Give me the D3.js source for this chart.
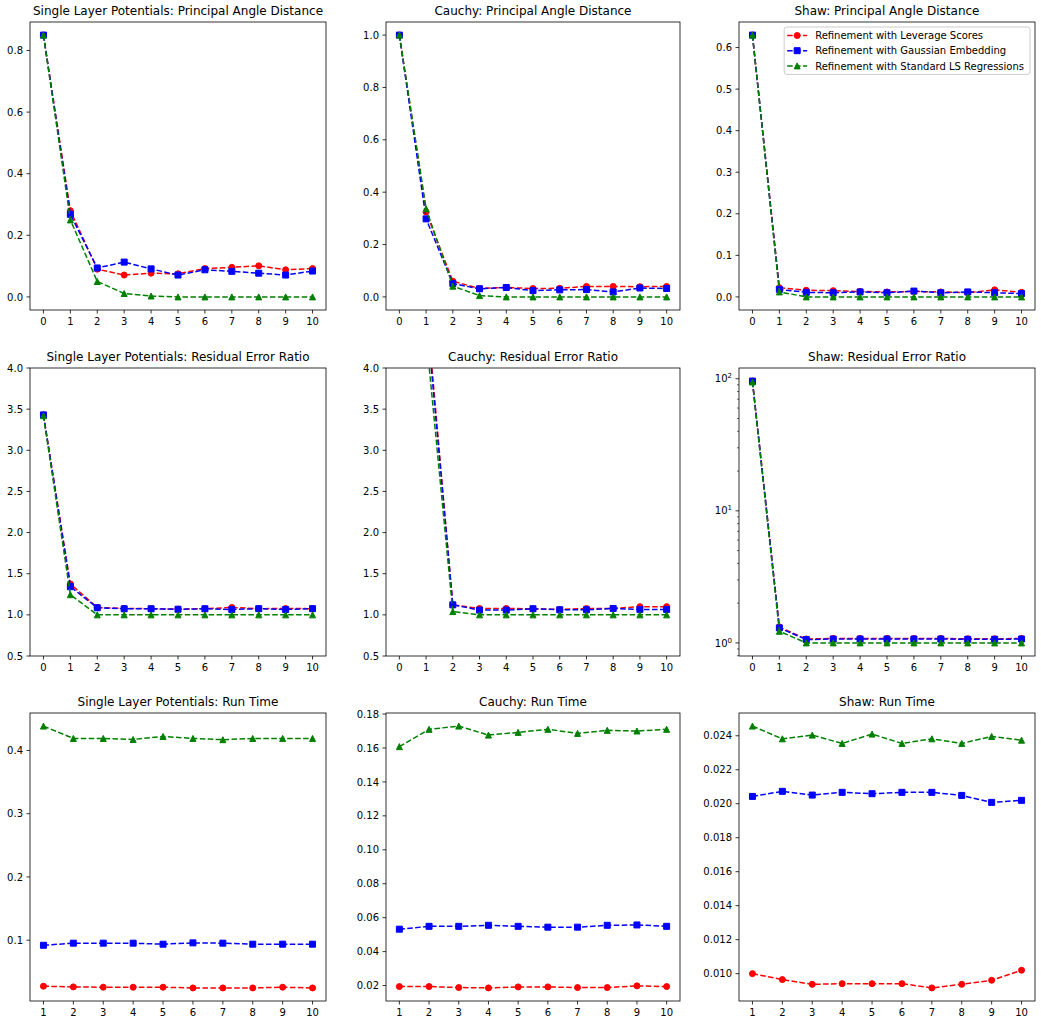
<!DOCTYPE html>
<html>
<head>
<meta charset="UTF-8">
<script src="https://d3js.org/d3.v7.min.js"></script>
<style>
  body { margin: 0; background: #fff; }
  svg { font-family: "DejaVu Sans", sans-serif; }
</style>
</head>
<body>
<svg width="1041" height="1025"></svg>
<script>
// x values
const iters = [0, 1, 2, 3, 4, 5, 6, 7, 8, 9, 10];
const runs = [1, 2, 3, 4, 5, 6, 7, 8, 9, 10];

// principal angle distance
const slpAngleLev   = [0.85, 0.28, 0.09, 0.071, 0.077, 0.075, 0.092, 0.096, 0.101, 0.088, 0.092];
const slpAngleGauss = [0.85, 0.268, 0.094, 0.113, 0.091, 0.071, 0.088, 0.083, 0.077, 0.071, 0.084];
const slpAngleLS    = [0.85, 0.25, 0.05, 0.011, 0.003, 0, 0, 0, 0, 0, 0];

const cauchyAngleLev   = [1.0, 0.324, 0.06, 0.032, 0.036, 0.032, 0.033, 0.04, 0.04, 0.039, 0.04];
const cauchyAngleGauss = [1.0, 0.298, 0.051, 0.031, 0.036, 0.024, 0.027, 0.028, 0.019, 0.034, 0.032];
const cauchyAngleLS    = [1.0, 0.337, 0.041, 0.005, 0, 0, 0, 0, 0, 0, 0];

const shawAngleLev   = [0.63, 0.022, 0.016, 0.015, 0.013, 0.012, 0.013, 0.012, 0.01, 0.017, 0.011];
const shawAngleGauss = [0.63, 0.018, 0.011, 0.01, 0.012, 0.01, 0.014, 0.01, 0.012, 0.01, 0.008];
const shawAngleLS    = [0.63, 0.012, 0, 0, 0, 0, 0, 0, 0, 0, 0];

// residual error ratio
const slpResidLev   = [3.43, 1.375, 1.09, 1.078, 1.075, 1.07, 1.075, 1.09, 1.075, 1.078, 1.075];
const slpResidGauss = [3.43, 1.342, 1.086, 1.074, 1.074, 1.068, 1.074, 1.065, 1.075, 1.065, 1.075];
const slpResidLS    = [3.42, 1.245, 1.0, 1.0, 1.0, 1.0, 1.0, 1.0, 1.0, 1.0, 1.0];

const cauchyResidLev   = [38, 4.81, 1.12, 1.078, 1.078, 1.074, 1.066, 1.078, 1.078, 1.1, 1.1];
const cauchyResidGauss = [38, 4.7, 1.122, 1.058, 1.058, 1.074, 1.062, 1.062, 1.078, 1.066, 1.066];
const cauchyResidLS    = [38, 4.4, 1.04, 1.0, 1.0, 1.0, 1.0, 1.0, 1.0, 1.0, 1.0];

const shawResidLev   = [96, 1.32, 1.07, 1.08, 1.08, 1.08, 1.08, 1.08, 1.075, 1.075, 1.08];
const shawResidGauss = [96, 1.3, 1.06, 1.07, 1.07, 1.07, 1.07, 1.07, 1.065, 1.065, 1.07];
const shawResidLS    = [94.5, 1.225, 1.0, 1.0, 1.0, 1.0, 1.0, 1.0, 1.0, 1.0, 1.0];

// run time
const slpTimeLev   = [0.0273, 0.0262, 0.0257, 0.0257, 0.0257, 0.0246, 0.0246, 0.0246, 0.0257, 0.0246];
const slpTimeGauss = [0.092, 0.0953, 0.0953, 0.0953, 0.0937, 0.0958, 0.0953, 0.0937, 0.0937, 0.0937];
const slpTimeLS    = [0.4385, 0.419, 0.419, 0.4174, 0.422, 0.419, 0.417, 0.419, 0.419, 0.419];

const cauchyTimeLev   = [0.0194, 0.0194, 0.0188, 0.0186, 0.0192, 0.0192, 0.0188, 0.0188, 0.0198, 0.0194];
const cauchyTimeGauss = [0.0532, 0.0549, 0.0549, 0.0555, 0.0549, 0.0544, 0.0544, 0.0555, 0.0557, 0.0549];
const cauchyTimeLS    = [0.1608, 0.171, 0.1729, 0.1676, 0.1692, 0.171, 0.1686, 0.1704, 0.17, 0.171];

const shawTimeLev   = [0.01, 0.00965, 0.00937, 0.00941, 0.00941, 0.00941, 0.00916, 0.00937, 0.00961, 0.0102];
const shawTimeGauss = [0.02043, 0.02073, 0.02051, 0.02067, 0.02059, 0.02067, 0.02067, 0.02049, 0.02008, 0.0202];
const shawTimeLS    = [0.02457, 0.02382, 0.02404, 0.02355, 0.0241, 0.02355, 0.02382, 0.02355, 0.02396, 0.02374];

// tick values
const slpAngleTicks = [0, 0.2, 0.4, 0.6, 0.8];
const cauchyAngleTicks = [0, 0.2, 0.4, 0.6, 0.8, 1.0];
const shawAngleTicks = [0, 0.1, 0.2, 0.3, 0.4, 0.5, 0.6];
const residTicks = [0.5, 1.0, 1.5, 2.0, 2.5, 3.0, 3.5, 4.0];
const shawResidTicks = [1, 10, 100];
const slpTimeTicks = [0.1, 0.2, 0.3, 0.4];
const cauchyTimeTicks = [0.02, 0.04, 0.06, 0.08, 0.10, 0.12, 0.14, 0.16, 0.18];
const shawTimeTicks = [0.010, 0.012, 0.014, 0.016, 0.018, 0.020, 0.022, 0.024];

const seriesNames = ["Refinement with Leverage Scores", "Refinement with Gaussian Embedding", "Refinement with Standard LS Regressions"];
const seriesColors = ["#ff0000", "#0000ff", "#008000"];
const seriesMarkers = ["circle", "square", "triangle"];

const panels = [
  { title: "Single Layer Potentials: Principal Angle Distance", x: iters, ys: [slpAngleLev, slpAngleGauss, slpAngleLS], ticks: slpAngleTicks, fmt: ".1f" },
  { title: "Cauchy: Principal Angle Distance", x: iters, ys: [cauchyAngleLev, cauchyAngleGauss, cauchyAngleLS], ticks: cauchyAngleTicks, fmt: ".1f" },
  { title: "Shaw: Principal Angle Distance", x: iters, ys: [shawAngleLev, shawAngleGauss, shawAngleLS], ticks: shawAngleTicks, fmt: ".1f", legend: true },
  { title: "Single Layer Potentials: Residual Error Ratio", x: iters, ys: [slpResidLev, slpResidGauss, slpResidLS], ticks: residTicks, fmt: ".1f", ylim: [0.5, 4] },
  { title: "Cauchy: Residual Error Ratio", x: iters, ys: [cauchyResidLev, cauchyResidGauss, cauchyResidLS], ticks: residTicks, fmt: ".1f", ylim: [0.5, 4] },
  { title: "Shaw: Residual Error Ratio", x: iters, ys: [shawResidLev, shawResidGauss, shawResidLS], ticks: shawResidTicks, log: true },
  { title: "Single Layer Potentials: Run Time", x: runs, ys: [slpTimeLev, slpTimeGauss, slpTimeLS], ticks: slpTimeTicks, fmt: ".1f" },
  { title: "Cauchy: Run Time", x: runs, ys: [cauchyTimeLev, cauchyTimeGauss, cauchyTimeLS], ticks: cauchyTimeTicks, fmt: ".2f" },
  { title: "Shaw: Run Time", x: runs, ys: [shawTimeLev, shawTimeGauss, shawTimeLS], ticks: shawTimeTicks, fmt: ".3f" }
];

const colLeft = [30, 386, 739];
const colWidth = [296, 294, 296];
const rowTop = [22, 368, 713];
const rowHeight = 288;

const svg = d3.select("svg");

function markerPath(kind) {
  if (kind === "circle") return d3.symbol(d3.symbolCircle, Math.PI * 9)();
  if (kind === "square") return "M-3,-3H3V3H-3Z";
  return "M0,-3L3,3L-3,3Z";
}

function padded(lo, hi) {
  const m = (hi - lo) * 0.05;
  return [lo - m, hi + m];
}

panels.forEach((p, i) => {
  const col = i % 3, row = Math.floor(i / 3);
  const w = colWidth[col], h = rowHeight;
  const g = svg.append("g").attr("transform", `translate(${colLeft[col]},${rowTop[row]})`);

  const x = d3.scaleLinear().domain(padded(d3.min(p.x), d3.max(p.x))).range([0, w]);
  const all = p.ys.flat();
  let y;
  if (p.log) {
    const d = padded(Math.log10(d3.min(all)), Math.log10(d3.max(all)));
    y = d3.scaleLog().domain([Math.pow(10, d[0]), Math.pow(10, d[1])]).range([h, 0]);
  } else {
    y = d3.scaleLinear().domain(p.ylim || padded(d3.min(all), d3.max(all))).range([h, 0]);
  }

  const clipId = "clip" + i;
  g.append("clipPath").attr("id", clipId)
    .append("rect").attr("width", w).attr("height", h);

  const plot = g.append("g").attr("clip-path", `url(#${clipId})`);
  const line = d3.line().x((d, k) => x(p.x[k])).y(d => y(d));

  p.ys.forEach((vals, s) => {
    plot.append("path")
      .attr("d", line(vals))
      .attr("fill", "none")
      .attr("stroke", seriesColors[s])
      .attr("stroke-width", 1.5)
      .attr("stroke-dasharray", "5.55,2.4");
    plot.selectAll(null)
      .data(vals)
      .join("path")
        .attr("d", markerPath(seriesMarkers[s]))
        .attr("transform", (d, k) => `translate(${x(p.x[k])},${y(d)})`)
        .attr("fill", seriesColors[s])
        .attr("stroke", seriesColors[s])
        .attr("stroke-width", 1);
  });

  // frame
  g.append("rect").attr("width", w).attr("height", h)
    .attr("fill", "none").attr("stroke", "#000").attr("stroke-width", 0.8);

  // x ticks
  const xa = g.append("g").attr("transform", `translate(0,${h})`);
  p.x.forEach(v => {
    xa.append("line").attr("x1", x(v)).attr("x2", x(v)).attr("y1", 0).attr("y2", 3.5)
      .attr("stroke", "#000").attr("stroke-width", 0.8);
    xa.append("text").attr("x", x(v)).attr("y", 15)
      .attr("text-anchor", "middle").attr("font-size", 10).attr("fill", "#000").text(v);
  });

  // y ticks
  const ya = g.append("g");
  p.ticks.forEach(v => {
    ya.append("line").attr("x1", 0).attr("x2", -3.5).attr("y1", y(v)).attr("y2", y(v))
      .attr("stroke", "#000").attr("stroke-width", 0.8);
    const t = ya.append("text").attr("x", -7).attr("y", y(v) + 3.6)
      .attr("text-anchor", "end").attr("font-size", 10).attr("fill", "#000");
    if (p.log) {
      t.append("tspan").text("10");
      t.append("tspan").attr("dy", -4).attr("font-size", 7).text(Math.round(Math.log10(v)));
    } else {
      t.text(d3.format(p.fmt)(v));
    }
  });
  if (p.log) {
    const [lo, hi] = y.domain();
    for (let e = Math.floor(Math.log10(lo)); e <= Math.ceil(Math.log10(hi)); e++) {
      [2, 3, 4, 5, 6, 7, 8, 9].forEach(m => {
        const v = m * Math.pow(10, e);
        if (v >= lo && v <= hi) {
          ya.append("line").attr("x1", 0).attr("x2", -2).attr("y1", y(v)).attr("y2", y(v))
            .attr("stroke", "#000").attr("stroke-width", 0.6);
        }
      });
    }
  }

  // title
  g.append("text").attr("x", w / 2).attr("y", -7)
    .attr("text-anchor", "middle").attr("font-size", 12).attr("fill", "#000").text(p.title);

  // legend
  if (p.legend) {
    const lg = g.append("g");
    const box = lg.append("rect").attr("fill", "#fff").attr("fill-opacity", 0.8)
      .attr("stroke", "#cccccc").attr("stroke-width", 1).attr("rx", 2.5);
    const items = lg.append("g");
    let maxW = 0;
    seriesNames.forEach((name, s) => {
      const row = items.append("g").attr("transform", `translate(0,${s * 15.2})`);
      row.append("line").attr("x1", 0).attr("x2", 20).attr("y1", 0).attr("y2", 0)
        .attr("stroke", seriesColors[s]).attr("stroke-width", 1.5).attr("stroke-dasharray", "5.55,2.4");
      row.append("path").attr("d", markerPath(seriesMarkers[s])).attr("transform", "translate(10,0)")
        .attr("fill", seriesColors[s]).attr("stroke", seriesColors[s]).attr("stroke-width", 1);
      const t = row.append("text").attr("x", 28).attr("y", 3.6).attr("font-size", 10).attr("fill", "#000").text(name);
      maxW = Math.max(maxW, t.node().getComputedTextLength());
    });
    const bw = 4 + 28 + maxW + 5;
    const bh = 2 * 15.2 + 17;
    const bx = w - 5 - bw, by = 5;
    box.attr("x", bx).attr("y", by).attr("width", bw).attr("height", bh);
    items.attr("transform", `translate(${bx + 3},${by + 8.5})`);
  }
});
</script>
</body>
</html>
